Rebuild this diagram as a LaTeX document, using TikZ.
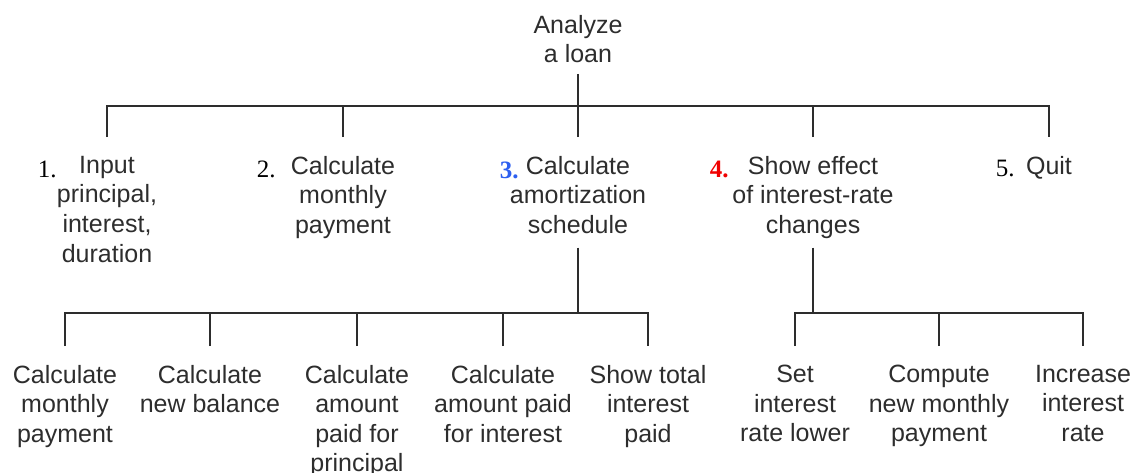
\documentclass[tikz,border=0pt]{standalone}
\usepackage{fontspec}
\setmainfont{Liberation Sans}
\newfontfamily\numfont{Liberation Serif}
\usepackage{xcolor}
\usepackage{tikz}
\definecolor{ink}{RGB}{45,45,45}
\definecolor{numblue}{RGB}{45,95,240}
\definecolor{numred}{RGB}{240,0,0}

\begin{document}
\begin{tikzpicture}[x=0.5pt, y=-0.5pt,
  box/.style={align=center, anchor=north, inner sep=0pt, outer xsep=0pt, text=ink, font=\fontsize{12.5}{14.8}\selectfont},
  rootbox/.style={box, outer ysep=5.5pt},
  taskbox/.style={box, outer ysep=9.5pt},
  subbox/.style={box, outer ysep=9.5pt},
  num/.style={anchor=base east, inner sep=0pt, font=\numfont\fontsize{12.5}{14.8}\selectfont},
  link/.style={draw=ink, line width=0.9pt}]
\useasboundingbox (0,0) rectangle (1138,472);

\node[rootbox] (root) at (578,4) {Analyze\\a loan};

\node[taskbox] (n1) at (107,137) {Input\\principal,\\interest,\\duration};
\node[taskbox] (n2) at (343,137) {Calculate\\monthly\\payment};
\node[taskbox] (n3) at (578,137) {Calculate\\amortization\\schedule};
\node[taskbox] (n4) at (813,137) {Show effect\\of interest-rate\\changes};
\node[taskbox] (n5) at (1049,137) {Quit};

\node[num] (num1) at (57,177) {1.};
\node[num] (num2) at (276,177) {2.};
\node[num, text=numblue, font=\numfont\bfseries\fontsize{12.5}{14.8}\selectfont] (num3) at (519,178) {3.};
\node[num, text=numred, font=\numfont\bfseries\fontsize{12.5}{14.8}\selectfont] (num4) at (729,177) {4.};
\node[num] (num5) at (1015,176) {5.};

\node[subbox] (m1) at (65,346) {Calculate\\monthly\\payment};
\node[subbox] (m2) at (210,346) {Calculate\\new balance};
\node[subbox] (m3) at (357,346) {Calculate\\amount\\paid for\\principal};
\node[subbox] (m4) at (503,346) {Calculate\\amount paid\\for interest};
\node[subbox] (m5) at (648,346) {Show total\\interest\\paid};

\node[subbox] (k1) at (795,346) {Set\\interest\\rate lower};
\node[subbox] (k2) at (939,346) {Compute\\new monthly\\payment};
\node[subbox] (k3) at (1083,346) {Increase\\interest\\rate};

\coordinate (bar2) at (578,106);
\draw[link] (root.south) -- (bar2);
\draw[link] (n1.north) |- (bar2) -| (n5.north);
\foreach \n in {n2,n3,n4} \draw[link] (\n.north) -- (\n |- bar2);

\coordinate (bar3) at (578,313);
\draw[link, shorten <=-2.5pt] (n3.south) -- (bar3);
\draw[link] (m1.north) |- (bar3) -| (m5.north);
\foreach \n in {m2,m3,m4} \draw[link] (\n.north) -- (\n |- bar3);

\coordinate (bar4) at (813,313);
\draw[link, shorten <=-5pt] (n4.south) -- (bar4);
\draw[link] (k1.north) |- (bar4) -| (k3.north);
\draw[link] (k2.north) -- (k2 |- bar4);
\end{tikzpicture}
\end{document}
